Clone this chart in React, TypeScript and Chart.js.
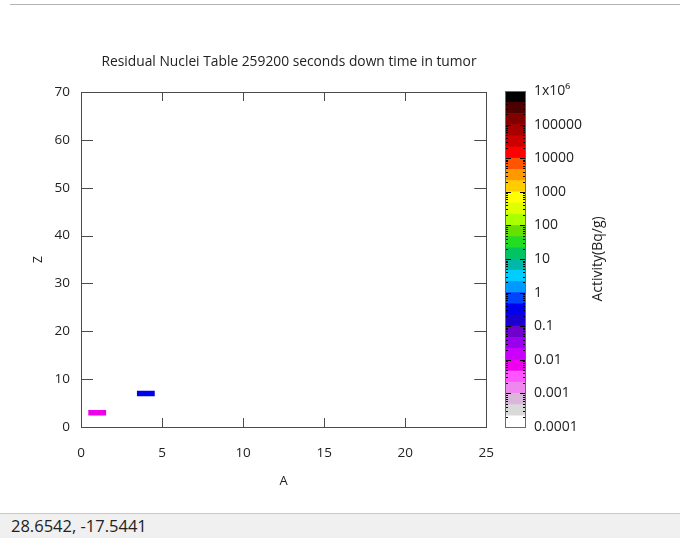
import React, { useEffect, useRef } from "react";
import { Chart, registerables } from "chart.js";
Chart.register(...registerables);

// ---- data ----
const chartTitle = "Residual Nuclei Table 259200 seconds down time in tumor";
const nuclideA = [1, 4];
const nuclideZ = [3, 7];
const nuclideActivity = [0.007, 0.3]; // Bq/g

const xTicks = [0, 5, 10, 15, 20, 25];
const yTicks = [0, 10, 20, 30, 40, 50, 60, 70];

const colorbarDecades = [1e-4, 1e-3, 1e-2, 1e-1, 1, 10, 100, 1000, 1e4, 1e5, 1e6];
const colorbarLabels = ["0.0001", "0.001", "0.01", "0.1", "1", "10", "100", "1000", "10000", "100000", "1x10\u2076"];
// palette, bottom (1e-4) to top (1e6), three bands per decade
const paletteColors = [
  "#ffffff", "#d9d9d9", "#dbb6db",
  "#ee88ee", "#ff55ff", "#ee00ee",
  "#cc00ff", "#9900ee", "#7000cc",
  "#1a00cc", "#0000ee", "#0044ff",
  "#0099ff", "#00ccff", "#00b8a8",
  "#00c462", "#22dd22", "#66e000",
  "#aaff00", "#ddff00", "#ffff00",
  "#ffcc00", "#ff9900", "#ff5500",
  "#ff0000", "#cc0000", "#a80000",
  "#800000", "#4d0000", "#000000",
];
const bandsPerDecade = 3;
const cellHalfWidth = 0.55;

const FONT = "'Open Sans', sans-serif";

function bandRange(i: number): [number, number] {
  const d = Math.floor(i / bandsPerDecade);
  const k = i % bandsPerDecade;
  const base = colorbarDecades[d];
  return [base * Math.pow(10, k / bandsPerDecade), base * Math.pow(10, (k + 1) / bandsPerDecade)];
}
function colorFor(act: number): string {
  const lo = Math.log10(colorbarDecades[0]);
  let idx = Math.floor((Math.log10(act) - lo) * bandsPerDecade);
  idx = Math.max(0, Math.min(paletteColors.length - 1, idx));
  return paletteColors[idx];
}

const mainFramePlugin = {
  id: "mainFrame",
  afterDatasetsDraw(chart: any) {
    const { ctx, chartArea, scales } = chart;
    const { left, right, top, bottom } = chartArea;
    const x = scales.x, y = scales.y;
    ctx.save();
    ctx.strokeStyle = "#4a4a4a";
    ctx.lineWidth = 1;
    ctx.strokeRect(Math.round(left) + 0.5, Math.round(top) + 0.5, Math.round(right - left), Math.round(bottom - top));
    ctx.beginPath();
    xTicks.forEach((v) => {
      const px = Math.round(x.getPixelForValue(v)) + 0.5;
      ctx.moveTo(px, bottom); ctx.lineTo(px, bottom - 9);
      ctx.moveTo(px, top); ctx.lineTo(px, top + 9);
    });
    yTicks.forEach((v) => {
      const py = Math.round(y.getPixelForValue(v)) + 0.5;
      ctx.moveTo(left, py); ctx.lineTo(left + 12, py);
      ctx.moveTo(right, py); ctx.lineTo(right - 12, py);
    });
    ctx.stroke();
    ctx.fillStyle = "#222";
    ctx.font = `13.8px ${FONT}`;
    ctx.textAlign = "center";
    ctx.textBaseline = "middle";
    ctx.fillText(chartTitle, 289, 62);
    ctx.restore();
  },
};

const colorbarPlugin = {
  id: "colorbarFrame",
  afterDatasetsDraw(chart: any) {
    const { ctx, chartArea, scales } = chart;
    const { left, right, top, bottom } = chartArea;
    const y = scales.y;
    ctx.save();
    ctx.strokeStyle = "#000";
    ctx.lineWidth = 1;
    ctx.beginPath();
    for (let d = 0; d < colorbarDecades.length; d++) {
      const base = colorbarDecades[d];
      const py = Math.round(y.getPixelForValue(base)) + 0.5;
      ctx.moveTo(left, py); ctx.lineTo(left + 6, py);
      ctx.moveTo(right, py); ctx.lineTo(right - 6, py);
      if (d < colorbarDecades.length - 1) {
        for (let k = 2; k <= 9; k++) {
          const pm = Math.round(y.getPixelForValue(base * k)) + 0.5;
          ctx.moveTo(left, pm); ctx.lineTo(left + 3, pm);
          ctx.moveTo(right, pm); ctx.lineTo(right - 3, pm);
        }
      }
    }
    ctx.stroke();
    ctx.strokeStyle = "#6a6a6a";
    ctx.strokeRect(Math.round(left) + 0.5, Math.round(top) + 0.5, Math.round(right - left) - 1, Math.round(bottom - top));
    ctx.fillStyle = "#222";
    ctx.font = `14px ${FONT}`;
    ctx.textAlign = "center";
    ctx.textBaseline = "middle";
    ctx.translate(118, (top + bottom) / 2);
    ctx.rotate(-Math.PI / 2);
    ctx.fillText("Activity(Bq/g)", 0, 0);
    ctx.restore();
  },
};

export default function App() {
  const mainRef = useRef<HTMLCanvasElement>(null);
  const barRef = useRef<HTMLCanvasElement>(null);

  useEffect(() => {
    Chart.defaults.font.family = FONT;
    Chart.defaults.color = "#222";

    const datasets = nuclideA.map((a, i) => ({
      data: [
        { x: a - cellHalfWidth, y: nuclideZ[i] },
        { x: a + cellHalfWidth, y: nuclideZ[i] },
      ],
      borderColor: colorFor(nuclideActivity[i]),
      backgroundColor: colorFor(nuclideActivity[i]),
      borderWidth: 5.5,
      borderCapStyle: "butt" as const,
      showLine: true,
      pointRadius: 0,
    }));

    const main = new Chart(mainRef.current!, {
      type: "scatter",
      data: { datasets },
      options: {
        animation: false,
        responsive: false,
        layout: { padding: { left: 31, right: 0, top: 92, bottom: 0 } },
        plugins: { legend: { display: false }, tooltip: { enabled: false }, title: { display: false } },
        scales: {
          x: {
            type: "linear",
            min: 0,
            max: 25,
            afterBuildTicks: (s: any) => { s.ticks = xTicks.map((v) => ({ value: v })); },
            afterFit: (s: any) => { s.height = 73; },
            grid: { display: false, drawTicks: false },
            border: { display: false },
            ticks: { font: { size: 13.5 }, padding: 18, color: "#222", maxRotation: 0, autoSkip: false },
            title: { display: true, text: "A", font: { size: 13 }, color: "#222", padding: { top: 0, bottom: 11 } },
          },
          y: {
            type: "linear",
            min: 0,
            max: 70,
            afterBuildTicks: (s: any) => { s.ticks = yTicks.map((v) => ({ value: v })); },
            afterFit: (s: any) => { s.width = 50; },
            grid: { display: false, drawTicks: false },
            border: { display: false },
            ticks: { font: { size: 13.5 }, padding: 11, color: "#222", autoSkip: false },
            title: { display: true, text: "Z", font: { size: 12 }, color: "#222", padding: { top: 0, bottom: 0 } },
          },
        },
      },
      plugins: [mainFramePlugin],
    });

    const barDatasets = paletteColors.map((c, i) => ({
      data: [bandRange(i)],
      backgroundColor: c,
      borderWidth: 0,
      grouped: false,
      barPercentage: 1,
      categoryPercentage: 1,
    }));

    const bar = new Chart(barRef.current!, {
      type: "bar",
      data: { labels: [""], datasets: barDatasets as any },
      options: {
        animation: false,
        responsive: false,
        layout: { padding: { left: 25, right: 0, top: 91, bottom: 73 } },
        plugins: { legend: { display: false }, tooltip: { enabled: false } },
        scales: {
          x: { display: false },
          y: {
            type: "logarithmic",
            position: "right",
            min: colorbarDecades[0],
            max: colorbarDecades[colorbarDecades.length - 1],
            afterBuildTicks: (s: any) => { s.ticks = colorbarDecades.map((v) => ({ value: v, major: true })); },
            afterFit: (s: any) => { s.width = 154; },
            grid: { display: false, drawTicks: false },
            border: { display: false },
            ticks: {
              font: { size: 14 },
              padding: 8,
              color: "#222",
              autoSkip: false,
              callback: (_v: any, idx: number) => colorbarLabels[idx],
            },
          },
        },
      },
      plugins: [colorbarPlugin],
    });

    return () => {
      main.destroy();
      bar.destroy();
    };
  }, []);

  return (
    <div style={{ position: "fixed", left: 0, top: 0, width: 680, height: 538, background: "#fff", overflow: "hidden", fontFamily: FONT }}>
      <div style={{ position: "absolute", left: 10, top: 4, width: 670, height: 1, background: "#b4b4b4" }} />
      <canvas ref={mainRef} width={512} height={500} style={{ position: "absolute", left: 0, top: 0, width: 512, height: 500 }} />
      <canvas ref={barRef} width={200} height={500} style={{ position: "absolute", left: 480, top: 0, width: 200, height: 500 }} />
      <div
        style={{
          position: "absolute", left: 0, top: 513, width: 680, height: 25, boxSizing: "border-box",
          background: "#f0f0f0", borderTop: "1px solid #c8c8c8", paddingLeft: 11,
          fontSize: 16.5, lineHeight: "24px", color: "#222",
        }}
      >
        28.6542, -17.5441
      </div>
    </div>
  );
}
